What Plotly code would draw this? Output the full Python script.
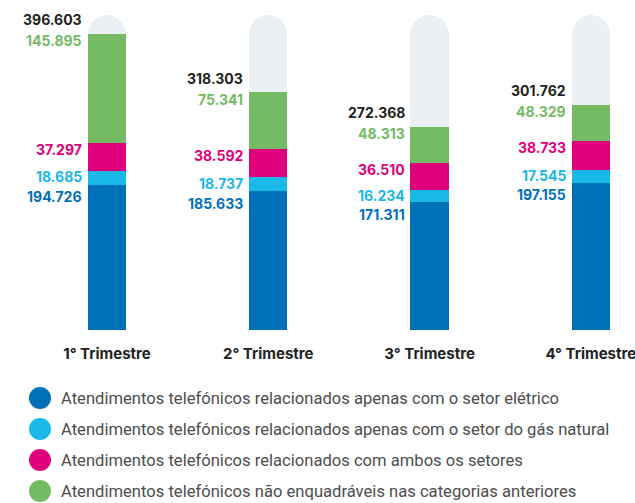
import plotly.graph_objects as go

categories = ["1° Trimestre", "2° Trimestre", "3° Trimestre", "4° Trimestre"]
eletrico = [194726, 185633, 171311, 197155]
gas = [18685, 18737, 16234, 17545]
ambos = [37297, 38592, 36510, 38733]
outros = [145895, 75341, 48313, 48329]
totais = [396603, 318303, 272368, 301762]
cap = [422000, 422000, 422000, 422000]

series_names = [
    "Atendimentos telefónicos relacionados apenas com o setor elétrico",
    "Atendimentos telefónicos relacionados apenas com o setor do gás natural",
    "Atendimentos telefónicos relacionados com ambos os setores",
    "Atendimentos telefónicos não enquadráveis nas categorias anteriores",
]
series_vals = [eletrico, gas, ambos, outros]
colors = ["#0070B9", "#19B8E7", "#E0007B", "#74BB64"]
label_shift = [-12, -6, -7, -7]
bg_color = "#EBF0F5"

W, H = 635, 503
ML, MR, MT, MB = 0, 0, 0, 173
XR = [-0.663, 3.274]
YR = [0, 442000]
BW = 0.236

def fmt(v):
    return f"{v:,}".replace(",", ".")

fig = go.Figure()

# background capsule bars
fig.add_trace(go.Bar(
    x=categories, y=cap, width=BW, marker=dict(color=bg_color, cornerradius=19, line=dict(width=0)),
    xaxis="x", yaxis="y", showlegend=False, hoverinfo="skip",
))

for name, vals, col in zip(series_names, series_vals, colors):
    fig.add_trace(go.Bar(
        x=categories, y=vals, width=BW, name=name,
        marker=dict(color=col, line=dict(width=0)),
        xaxis="x2", yaxis="y", showlegend=False,
    ))

annotations = []
for i, cat in enumerate(categories):
    cum = 0
    for vals, col, ys in zip(series_vals, colors, label_shift):
        cum += vals[i]
        annotations.append(dict(
            x=cat, y=cum, xref="x", yref="y", text=fmt(vals[i]), showarrow=False,
            xanchor="right", yanchor="middle", xshift=-23, yshift=ys,
            font=dict(family="Inter", size=14, color=col, weight=700),
        ))
    annotations.append(dict(
        x=cat, y=totais[i], xref="x", yref="y", text=fmt(totais[i]), showarrow=False,
        xanchor="right", yanchor="middle", xshift=-23, yshift=14,
        font=dict(family="Inter", size=14, color="#222222", weight=700),
    ))

# manual legend
plot_h = H - MT - MB
legend_rows = [398, 429, 460, 491]
shapes = []
for py, name, col in zip(legend_rows, series_names, colors):
    yp = (plot_h - (py - MT)) / plot_h
    shapes.append(dict(
        type="circle", xref="paper", yref="paper", xsizemode="pixel", ysizemode="pixel",
        xanchor=40 / W, yanchor=yp, x0=-11, x1=11, y0=-11, y1=11,
        fillcolor=col, line=dict(width=0),
    ))
    annotations.append(dict(
        x=59 / W, y=yp, xref="paper", yref="paper", text=name, showarrow=False,
        xanchor="left", yanchor="middle",
        font=dict(family="Roboto", size=16.6, color="#4d4d4d"),
    ))

fig.update_layout(
    width=W, height=H, margin=dict(l=ML, r=MR, t=MT, b=MB),
    paper_bgcolor="white", plot_bgcolor="white",
    barmode="stack", bargap=0,
    xaxis=dict(range=XR, showgrid=False, zeroline=False, showline=False, ticks="",
               tickfont=dict(family="Inter", size=15, color="#222222", weight=700),
               ticklabelstandoff=13, automargin=False, fixedrange=True),
    xaxis2=dict(range=XR, overlaying="x", matches="x", visible=False),
    yaxis=dict(range=YR, visible=False, fixedrange=True),
    annotations=annotations, shapes=shapes, showlegend=False,
)

fig.write_html(
    "out.html",
    config={"displayModeBar": False},
    post_script="document.body.style.margin='0';document.body.style.overflow='hidden';",
)
